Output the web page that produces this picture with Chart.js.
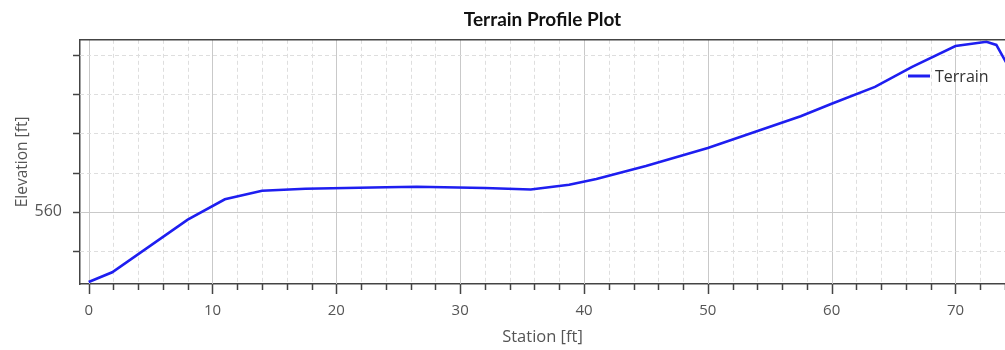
<!DOCTYPE html>
<html>
<head>
<meta charset="utf-8">
<script src="https://cdn.jsdelivr.net/npm/chart.js@4/dist/chart.umd.min.js"></script>
<style>
  html, body { margin: 0; padding: 0; background: #fff; }
  #wrap { width: 1005px; height: 350px; }
</style>
</head>
<body>
<div id="wrap"><canvas id="chart"></canvas></div>
<script>
// terrain profile
const stations   = [0, 1.9, 8, 11, 14, 17.5, 24, 26.5, 32, 35.7, 38.8, 41, 45, 50, 57.5, 60, 63.5, 66.5, 70, 72.5, 73.3, 74.2];
const elevations = [558.21, 558.46, 559.8, 560.32, 560.54, 560.59, 560.63, 560.64, 560.61, 560.57, 560.69, 560.84, 561.17, 561.63, 562.44, 562.76, 563.19, 563.7, 564.23, 564.34, 564.26, 563.75];
const xTicks = [0, 2, 4, 6, 8, 10, 12, 14, 16, 18, 20, 22, 24, 26, 28, 30, 32, 34, 36, 38, 40, 42, 44, 46, 48, 50, 52, 54, 56, 58, 60, 62, 64, 66, 68, 70, 72, 74];
const yTicks = [559, 560, 561, 562, 563, 564];
const xLabels = [0, 10, 20, 30, 40, 50, 60, 70];
const yLabels = [560];

const AXIS = '#444';
const FONT = "'Open Sans', 'Noto Sans', sans-serif";

// dashed minor / solid major grid, minor ticks, top border and inline legend
const extras = {
  id: 'extras',
  beforeDatasetsDraw(chart) {
    const { ctx, chartArea: a, scales: { x, y } } = chart;
    ctx.save();
    ctx.lineWidth = 1;
    xTicks.forEach(v => {
      const px = Math.round(x.getPixelForValue(v)) + 0.5;
      const major = xLabels.includes(v);
      ctx.strokeStyle = major ? '#c9c9c9' : '#dedede';
      ctx.setLineDash(major ? [] : [4, 3]);
      ctx.beginPath(); ctx.moveTo(px, a.top); ctx.lineTo(px, a.bottom); ctx.stroke();
    });
    yTicks.forEach(v => {
      const py = Math.round(y.getPixelForValue(v)) + 0.5;
      const major = yLabels.includes(v);
      ctx.strokeStyle = major ? '#c9c9c9' : '#dedede';
      ctx.setLineDash(major ? [] : [4, 3]);
      ctx.beginPath(); ctx.moveTo(a.left, py); ctx.lineTo(a.right, py); ctx.stroke();
    });
    ctx.restore();
  },
  afterDraw(chart) {
    const { ctx, chartArea: a, scales: { x, y } } = chart;
    ctx.save();
    ctx.strokeStyle = AXIS;
    ctx.lineWidth = 1.5;
    // ticks on x: long at labelled values, short elsewhere
    xTicks.forEach(v => {
      const px = Math.round(x.getPixelForValue(v)) + 0.5;
      const len = xLabels.includes(v) ? 10 : 6;
      ctx.beginPath(); ctx.moveTo(px, a.bottom); ctx.lineTo(px, a.bottom + len); ctx.stroke();
    });
    yTicks.forEach(v => {
      const py = Math.round(y.getPixelForValue(v)) + 0.5;
      ctx.beginPath(); ctx.moveTo(a.left - 7, py); ctx.lineTo(a.left, py); ctx.stroke();
    });
    // top frame line
    ctx.beginPath(); ctx.moveTo(a.left, a.top); ctx.lineTo(a.right, a.top); ctx.stroke();
    // legend inside plot
    const ds = chart.data.datasets[0];
    ctx.strokeStyle = ds.borderColor;
    ctx.lineWidth = 3;
    ctx.beginPath(); ctx.moveTo(908, 76); ctx.lineTo(930, 76); ctx.stroke();
    ctx.fillStyle = '#333';
    ctx.font = "16px " + FONT;
    ctx.textBaseline = 'middle';
    ctx.fillText(ds.label, 935, 77);
    ctx.restore();
  }
};

new Chart(document.getElementById('chart'), {
  type: 'line',
  data: {
    datasets: [{
      label: 'Terrain',
      data: stations.map((s, i) => ({ x: s, y: elevations[i] })),
      borderColor: '#1e1ef0',
      borderWidth: 2.6,
      pointRadius: 0,
      tension: 0,
      fill: false
    }]
  },
  plugins: [extras],
  options: {
    responsive: true,
    maintainAspectRatio: false,
    animation: false,
    layout: { padding: 0 },
    plugins: {
      legend: { display: false },
      tooltip: { enabled: false },
      title: {
        display: true,
        fullSize: false,
        text: 'Terrain Profile Plot',
        color: '#111',
        font: { family: "Lato, 'Open Sans', sans-serif", size: 19, weight: 'bold' },
        padding: { top: 8, bottom: 9 }
      }
    },
    scales: {
      x: {
        type: 'linear',
        min: -0.7,
        max: 74,
        afterBuildTicks: s => { s.ticks = xTicks.map(v => ({ value: v })); },
        afterFit: s => { s.height = 66; s.paddingLeft = 0; s.paddingRight = 0; },
        grid: { display: false },
        border: { display: true, color: AXIS, width: 1.5 },
        ticks: {
          autoSkip: false,
          maxRotation: 0,
          padding: 10,
          color: '#555',
          font: { family: FONT, size: 15 },
          callback: v => xLabels.includes(v) ? String(v) : ''
        },
        title: {
          display: true,
          text: 'Station [ft]',
          color: '#555',
          font: { family: FONT, size: 16.5 },
          padding: { top: 0, bottom: 3 }
        }
      },
      y: {
        type: 'linear',
        min: 558.16,
        max: 564.39,
        afterBuildTicks: s => { s.ticks = yTicks.map(v => ({ value: v })); },
        afterFit: s => { s.width = 80; },
        grid: { display: false },
        border: { display: true, color: AXIS, width: 1.5 },
        ticks: {
          autoSkip: false,
          padding: 10,
          color: '#555',
          font: { family: FONT, size: 16 },
          callback: v => yLabels.includes(v) ? String(v) : ''
        },
        title: {
          display: true,
          text: 'Elevation [ft]',
          color: '#555',
          font: { family: FONT, size: 15.5 },
          padding: { top: 13, bottom: 0 }
        }
      }
    }
  }
});
</script>
</body>
</html>
